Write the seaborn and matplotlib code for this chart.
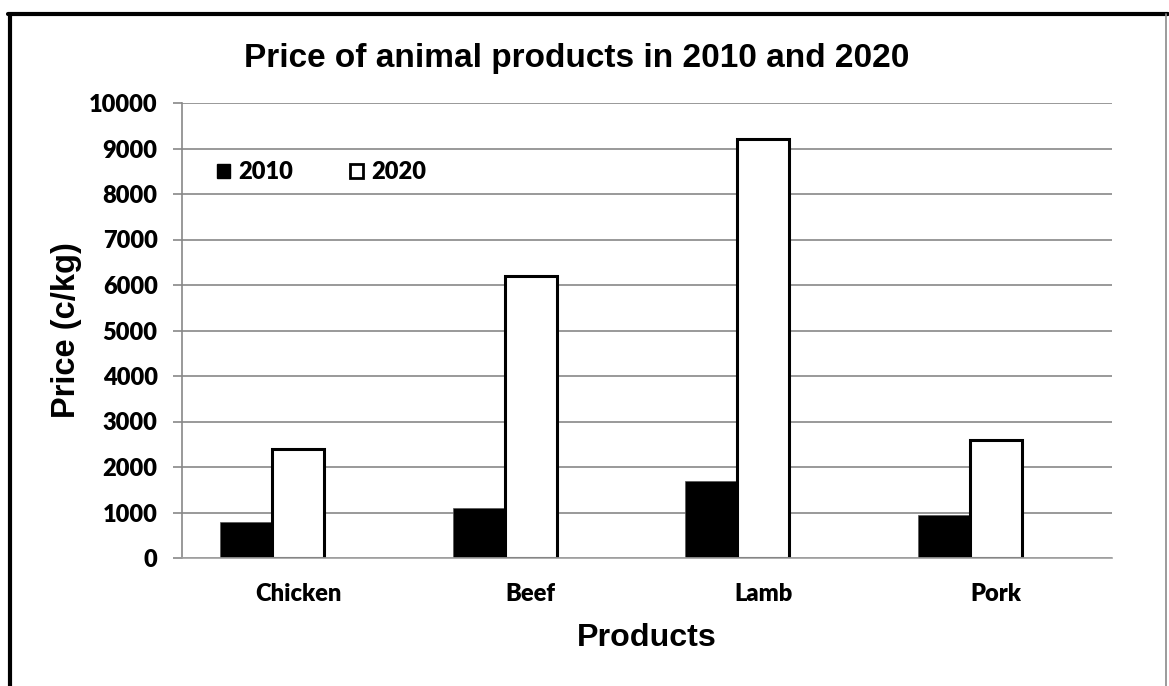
import matplotlib
matplotlib.use("Agg")
import matplotlib.pyplot as plt
from matplotlib.patches import Patch
from matplotlib.lines import Line2D
import seaborn as sns
import pandas as pd

products = ["Chicken", "Beef", "Lamb", "Pork"]
years = ["2010", "2020"]
price_2010 = [800, 1100, 1700, 950]
price_2020 = [2400, 6200, 9200, 2600]
y_ticks = list(range(0, 10001, 1000))

sns.set_theme(style="white")
plt.rcParams["font.family"] = ["Lato", "DejaVu Sans"]
plt.rcParams["text.color"] = "black"
plt.rcParams["axes.labelcolor"] = "black"
plt.rcParams["xtick.color"] = "black"
plt.rcParams["ytick.color"] = "black"

TICK_W = "heavy"

rows = []
for p, a, b in zip(products, price_2010, price_2020):
    rows.append({"Product": p, "Year": "2010", "Price": a})
    rows.append({"Product": p, "Year": "2020", "Price": b})
df = pd.DataFrame(rows)

fig = plt.figure(figsize=(11.69, 6.86), dpi=100)
ax = fig.add_axes([182/1169, 1-558/686, 930/1169, 455/686])

# third (empty) hue slot reproduces the original's offset clustering
hue_order = ["2010", "2020", "_"]
sns.barplot(data=df, x="Product", y="Price", hue="Year", hue_order=hue_order,
            order=products, width=0.671, dodge=True, ax=ax,
            palette={"2010": "black", "2020": "white", "_": "white"},
            edgecolor="black", linewidth=2.2, saturation=1, legend=False,
            err_kws={"linewidth": 0})

for bar in ax.patches:
    if bar.get_facecolor()[0] < 0.5:
        bar.set_linewidth(0.5)
        bar.set_edgecolor("#555555")

ax.set_xlim(-0.5, 3.5)
ax.set_ylim(0, 10000)
ax.set_yticks(y_ticks)
ax.set_yticklabels([str(v) for v in y_ticks])
ax.yaxis.grid(True, color="#878787", linewidth=1.2)
ax.set_axisbelow(True)
for s in ["top", "right"]:
    ax.spines[s].set_visible(False)
ax.spines["left"].set_color("#878787")
ax.spines["left"].set_linewidth(1.2)
ax.spines["bottom"].set_color("#a0a0a0")
ax.spines["bottom"].set_linewidth(1.2)

ax.tick_params(axis="y", which="major", length=6.5, width=1.2, color="#878787",
               pad=11, labelsize=17, left=True, labelcolor="black")
ax.tick_params(axis="x", length=0, pad=18, labelsize=17, labelcolor="black")
for lab in ax.get_yticklabels() + ax.get_xticklabels():
    lab.set_fontweight(TICK_W)

ax.set_xlabel("Products", fontsize=23.2, fontweight="bold", color="black",
              family=["Liberation Sans", "DejaVu Sans"], labelpad=13)
ax.set_ylabel("Price (c/kg)", fontsize=23.5, fontweight="bold", color="black",
              family=["Liberation Sans", "DejaVu Sans"], labelpad=5)
fig.text(577/1169, 1-58/686, "Price of animal products in 2010 and 2020",
         ha="center", va="center", fontsize=24, fontweight="bold", color="black",
         family=["Liberation Sans", "DejaVu Sans"])

handles = [Patch(facecolor="black", edgecolor="black", linewidth=1),
           Patch(facecolor="white", edgecolor="black", linewidth=2)]
leg = ax.legend(handles, years, loc="center left", bbox_to_anchor=(0.038, 0.848),
                ncol=2, frameon=False, fontsize=17, handlelength=0.55,
                handleheight=0.55, handletextpad=0.35, columnspacing=2.4,
                borderpad=0, borderaxespad=0)
for t in leg.get_texts():
    t.set_fontweight(TICK_W)
    t.set_color("black")

# chart frame
fig.add_artist(Line2D([8/1169, 1168/1169], [1-14/686, 1-14/686], color="black",
                      linewidth=3, transform=fig.transFigure))
fig.add_artist(Line2D([9.5/1169, 9.5/1169], [0, 1-14/686], color="black",
                      linewidth=3, transform=fig.transFigure))
fig.add_artist(Line2D([1166/1169, 1166/1169], [0, 1-14/686], color="#8a8a8a",
                      linewidth=1.2, transform=fig.transFigure))

fig.savefig("out.png", dpi=100)
